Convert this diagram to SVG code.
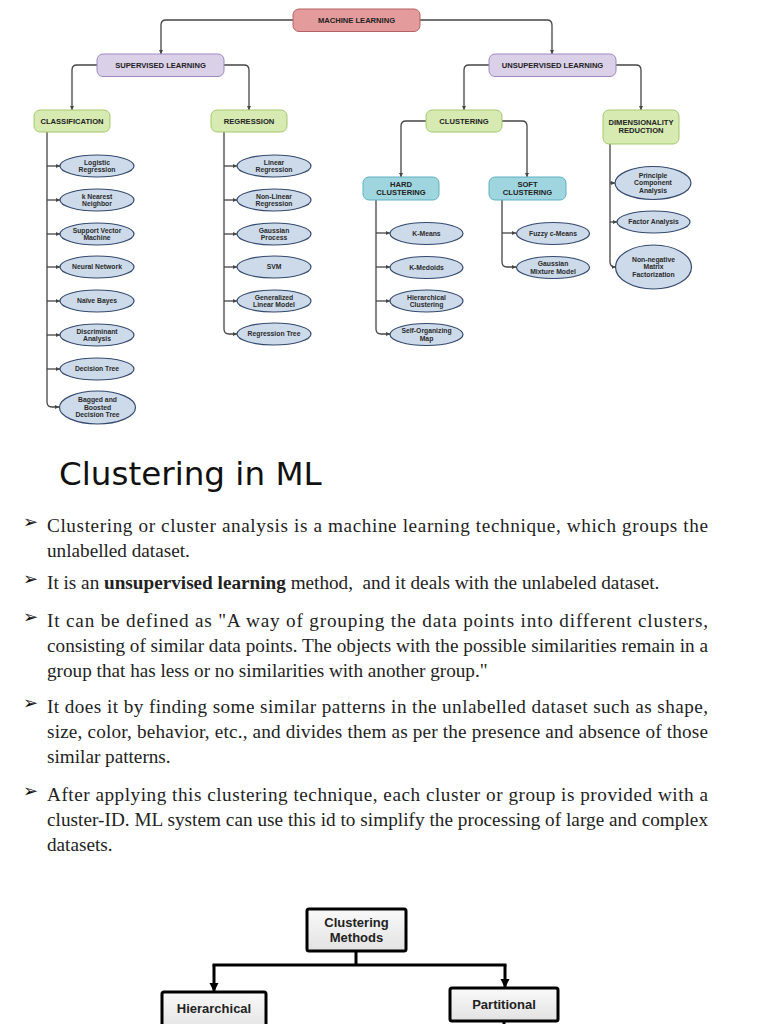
<svg xmlns="http://www.w3.org/2000/svg" width="768" height="1024" viewBox="0 0 768 1024">
<style>
.bg{fill:#ffffff}
.ml{fill:#e39b9b;stroke:#b56262;stroke-width:1}
.pu{fill:#dad0e8;stroke:#9f88c0;stroke-width:1}
.gr{fill:#d6eab2;stroke:#a2c96e;stroke-width:1}
.cy{fill:#9fd5df;stroke:#5eb0c2;stroke-width:1}
.el{fill:#cddaea;stroke:#34496e;stroke-width:1.2}
.bl{font-family:"Liberation Sans",Arial,sans-serif;font-weight:bold;font-size:7.6px;fill:#222;text-anchor:middle}
.et{font-family:"Liberation Sans",Arial,sans-serif;font-weight:bold;font-size:6.8px;fill:#2a2a2a;text-anchor:middle}
.cn{fill:none;stroke:#454545;stroke-width:1.3}
.cnb{fill:none;stroke:#000;stroke-width:3}
.bx{fill:url(#gg);stroke:#000;stroke-width:3}
.bt{font-family:"Liberation Sans",Arial,sans-serif;font-weight:bold;font-size:13px;fill:#222;text-anchor:middle}
.title{font-family:"DejaVu Sans",sans-serif;font-size:32.6px;fill:#111}
.body{font-family:"Liberation Serif","Times New Roman",serif;font-size:19.2px;fill:#222}
.bul{font-family:"DejaVu Sans",sans-serif;font-size:18px;fill:#111}
</style>
<defs>
<marker id="ah" viewBox="0 0 6 6" markerWidth="4" markerHeight="4" markerUnits="userSpaceOnUse" refX="6" refY="3" orient="auto"><path d="M0,0 L6,3 L0,6 z" fill="#454545"/></marker>
<marker id="ab" viewBox="0 0 10 10" markerWidth="9" markerHeight="10" markerUnits="userSpaceOnUse" refX="10" refY="5" orient="auto"><path d="M0,0 L10,5 L0,10 z" fill="#000"/></marker>
<linearGradient id="gg" x1="0" y1="0" x2="0" y2="1"><stop offset="0" stop-color="#fafafa"/><stop offset="1" stop-color="#e2e2e2"/></linearGradient>
</defs>
<rect class="bg" x="0" y="0" width="768" height="1024"/>

<g id="connectors">
<path class="cn" marker-end="url(#ah)" d="M293,20 H166 Q161,20 161,25 V54"/>
<path class="cn" marker-end="url(#ah)" d="M420,20 H547 Q552,20 552,25 V54"/>
<path class="cn" marker-end="url(#ah)" d="M97,65 H77 Q72,65 72,70 V110"/>
<path class="cn" marker-end="url(#ah)" d="M224,65 H244 Q249,65 249,70 V110"/>
<path class="cn" marker-end="url(#ah)" d="M489,65 H469 Q464,65 464,70 V110"/>
<path class="cn" marker-end="url(#ah)" d="M616,65 H636 Q641,65 641,70 V110"/>
<path class="cn" marker-end="url(#ah)" d="M426,121 H406 Q401,121 401,126 V177"/>
<path class="cn" marker-end="url(#ah)" d="M502,121 H522 Q527,121 527,126 V177"/>
<path class="cn" marker-end="url(#ah)" d="M47,132 V402 Q47,407 52,407 H59"/>
<path class="cn" marker-end="url(#ah)" d="M47,166 H60"/>
<path class="cn" marker-end="url(#ah)" d="M47,200 H60"/>
<path class="cn" marker-end="url(#ah)" d="M47,234 H60"/>
<path class="cn" marker-end="url(#ah)" d="M47,267 H60"/>
<path class="cn" marker-end="url(#ah)" d="M47,301 H60"/>
<path class="cn" marker-end="url(#ah)" d="M47,335 H60"/>
<path class="cn" marker-end="url(#ah)" d="M47,369 H60"/>
<path class="cn" marker-end="url(#ah)" d="M224,132 V329 Q224,334 229,334 H237"/>
<path class="cn" marker-end="url(#ah)" d="M224,166 H237"/>
<path class="cn" marker-end="url(#ah)" d="M224,200 H237"/>
<path class="cn" marker-end="url(#ah)" d="M224,234 H237"/>
<path class="cn" marker-end="url(#ah)" d="M224,267 H237"/>
<path class="cn" marker-end="url(#ah)" d="M224,301 H237"/>
<path class="cn" marker-end="url(#ah)" d="M376,200 V329 Q376,334 381,334 H390"/>
<path class="cn" marker-end="url(#ah)" d="M376,233 H390"/>
<path class="cn" marker-end="url(#ah)" d="M376,267 H390"/>
<path class="cn" marker-end="url(#ah)" d="M376,301 H390"/>
<path class="cn" marker-end="url(#ah)" d="M502,200 V262 Q502,267 507,267 H516"/>
<path class="cn" marker-end="url(#ah)" d="M502,233 H516"/>
<path class="cn" marker-end="url(#ah)" d="M610,144 V262 Q610,267 615,267 H615.5"/>
<path class="cn" marker-end="url(#ah)" d="M610,183 H615"/>
<path class="cn" marker-end="url(#ah)" d="M610,222 H617"/>
<path class="cnb" d="M356,951 V965 M212.5,965 H506.5"/>
<path class="cnb" marker-end="url(#ab)" d="M214,965 V992"/>
<path class="cnb" marker-end="url(#ab)" d="M505,965 V988"/>
<path class="cnb" d="M504,1021 V1024"/>
</g>

<g id="machine-learning"><rect class="ml" x="293" y="9" width="127" height="22.5" rx="6"/><text class="bl" x="356.5" y="23">MACHINE LEARNING</text></g>
<g id="supervised"><rect class="pu" x="97" y="54" width="127" height="22.5" rx="6"/><text class="bl" x="160.5" y="68">SUPERVISED LEARNING</text></g>
<g id="unsupervised"><rect class="pu" x="489" y="54" width="127" height="22.5" rx="6"/><text class="bl" x="552.5" y="68">UNSUPERVISED LEARNING</text></g>
<g id="classification"><rect class="gr" x="34" y="110" width="76" height="22" rx="6"/><text class="bl" x="72" y="124">CLASSIFICATION</text></g>
<g id="regression"><rect class="gr" x="211" y="110" width="76" height="22" rx="6"/><text class="bl" x="249" y="124">REGRESSION</text></g>
<g id="clustering"><rect class="gr" x="426" y="110" width="76" height="22" rx="6"/><text class="bl" x="464" y="124">CLUSTERING</text></g>
<g id="dimensionality"><rect class="gr" x="603" y="110" width="76" height="34" rx="6"/><text class="bl" x="641" y="124.5">DIMENSIONALITY<tspan x="641" dy="8.5">REDUCTION</tspan></text></g>
<g id="hard"><rect class="cy" x="363" y="177" width="76" height="23" rx="6"/><text class="bl" x="401" y="186.5">HARD<tspan x="401" dy="8.5">CLUSTERING</tspan></text></g>
<g id="soft"><rect class="cy" x="489" y="177" width="77" height="23" rx="6"/><text class="bl" x="527.5" y="186.5">SOFT<tspan x="527.5" dy="8.5">CLUSTERING</tspan></text></g>

<g id="logistic"><ellipse class="el" cx="97" cy="166" rx="37" ry="11"/><text class="et" x="97" y="164.5">Logistic<tspan x="97" dy="7.7">Regression</tspan></text></g>
<g id="knn"><ellipse class="el" cx="97" cy="200" rx="37" ry="11"/><text class="et" x="97" y="198.5">k Nearest<tspan x="97" dy="7.7">Neighbor</tspan></text></g>
<g id="svm-c"><ellipse class="el" cx="97" cy="234" rx="37" ry="11"/><text class="et" x="97" y="232.5">Support Vector<tspan x="97" dy="7.7">Machine</tspan></text></g>
<g id="nn"><ellipse class="el" cx="97" cy="267" rx="37" ry="11"/><text class="et" x="97" y="269.4">Neural Network</text></g>
<g id="nb"><ellipse class="el" cx="97" cy="301" rx="37" ry="11"/><text class="et" x="97" y="303.4">Naïve Bayes</text></g>
<g id="da"><ellipse class="el" cx="97" cy="335" rx="37" ry="11"/><text class="et" x="97" y="333.5">Discriminant<tspan x="97" dy="7.7">Analysis</tspan></text></g>
<g id="dt"><ellipse class="el" cx="97" cy="369" rx="37" ry="11"/><text class="et" x="97" y="371.4">Decision Tree</text></g>
<g id="bagged"><ellipse class="el" cx="97.5" cy="407.5" rx="38" ry="16.5"/><text class="et" x="97.5" y="402.2">Bagged and<tspan x="97.5" dy="7.6">Boosted</tspan><tspan x="97.5" dy="7.6">Decision Tree</tspan></text></g>

<g id="linear"><ellipse class="el" cx="274" cy="166" rx="37" ry="11"/><text class="et" x="274" y="164.5">Linear<tspan x="274" dy="7.7">Regression</tspan></text></g>
<g id="nonlinear"><ellipse class="el" cx="274" cy="200" rx="37" ry="11"/><text class="et" x="274" y="198.5">Non-Linear<tspan x="274" dy="7.7">Regression</tspan></text></g>
<g id="gp"><ellipse class="el" cx="274" cy="234" rx="37" ry="11"/><text class="et" x="274" y="232.5">Gaussian<tspan x="274" dy="7.7">Process</tspan></text></g>
<g id="svm-r"><ellipse class="el" cx="274" cy="267" rx="37" ry="11"/><text class="et" x="274" y="269.4">SVM</text></g>
<g id="glm"><ellipse class="el" cx="274" cy="301" rx="37" ry="11"/><text class="et" x="274" y="299.5">Generalized<tspan x="274" dy="7.7">Linear Model</tspan></text></g>
<g id="rt"><ellipse class="el" cx="274" cy="334" rx="37" ry="11"/><text class="et" x="274" y="336.4">Regression Tree</text></g>

<g id="kmeans"><ellipse class="el" cx="426.5" cy="233.5" rx="36.5" ry="11"/><text class="et" x="426.5" y="235.9">K-Means</text></g>
<g id="kmedoids"><ellipse class="el" cx="426.5" cy="267.5" rx="36.5" ry="11"/><text class="et" x="426.5" y="269.9">K-Medoids</text></g>
<g id="hier"><ellipse class="el" cx="426.5" cy="301" rx="36.5" ry="11"/><text class="et" x="426.5" y="299.5">Hierarchical<tspan x="426.5" dy="7.7">Clustering</tspan></text></g>
<g id="som"><ellipse class="el" cx="426.5" cy="334.5" rx="36.5" ry="11"/><text class="et" x="426.5" y="333">Self-Organizing<tspan x="426.5" dy="7.7">Map</tspan></text></g>

<g id="fuzzy"><ellipse class="el" cx="553" cy="233.5" rx="36.5" ry="11"/><text class="et" x="553" y="235.9">Fuzzy c-Means</text></g>
<g id="gmm"><ellipse class="el" cx="553" cy="267.5" rx="36.5" ry="11"/><text class="et" x="553" y="266">Gaussian<tspan x="553" dy="7.7">Mixture Model</tspan></text></g>

<g id="pca"><ellipse class="el" cx="653" cy="183" rx="38" ry="16.5"/><text class="et" x="653" y="177.7">Principle<tspan x="653" dy="7.6">Component</tspan><tspan x="653" dy="7.6">Analysis</tspan></text></g>
<g id="fa"><ellipse class="el" cx="653.5" cy="222" rx="36.5" ry="11"/><text class="et" x="653.5" y="224.4">Factor Analysis</text></g>
<g id="nmf"><ellipse class="el" cx="653.5" cy="267" rx="38" ry="22"/><text class="et" x="653.5" y="261.7">Non-negative<tspan x="653.5" dy="7.6">Matrix</tspan><tspan x="653.5" dy="7.6">Factorization</tspan></text></g>

<g id="text">
<text class="title" x="59" y="485">Clustering in ML</text>
<text class="bul" x="23" y="528">➢</text>
<text class="bul" x="23" y="585">➢</text>
<text class="bul" x="23" y="623">➢</text>
<text class="bul" x="23" y="709">➢</text>
<text class="bul" x="23" y="797">➢</text>
<text class="body" x="47" y="532" textLength="661" lengthAdjust="spacing">Clustering or cluster analysis is a machine learning technique, which groups the</text>
<text class="body" x="47" y="557">unlabelled dataset.</text>
<text class="body" x="47" y="589" xml:space="preserve">It is an <tspan font-weight="bold">unsupervised learning</tspan> method,  and it deals with the unlabeled dataset.</text>
<text class="body" x="47" y="627" textLength="661" lengthAdjust="spacing">It can be defined as "A way of grouping the data points into different clusters,</text>
<text class="body" x="47" y="652" textLength="661" lengthAdjust="spacing">consisting of similar data points. The objects with the possible similarities remain in a</text>
<text class="body" x="47" y="677">group that has less or no similarities with another group."</text>
<text class="body" x="47" y="713" textLength="661" lengthAdjust="spacing">It does it by finding some similar patterns in the unlabelled dataset such as shape,</text>
<text class="body" x="47" y="738" textLength="661" lengthAdjust="spacing">size, color, behavior, etc., and divides them as per the presence and absence of those</text>
<text class="body" x="47" y="763">similar patterns.</text>
<text class="body" x="47" y="801" textLength="661" lengthAdjust="spacing">After applying this clustering technique, each cluster or group is provided with a</text>
<text class="body" x="47" y="826" textLength="661" lengthAdjust="spacing">cluster-ID. ML system can use this id to simplify the processing of large and complex</text>
<text class="body" x="47" y="851">datasets.</text>
</g>

<g id="clustering-methods"><rect class="bx" x="307" y="909" width="99" height="42" rx="2"/><text class="bt" x="356.5" y="927">Clustering<tspan x="356.5" dy="15">Methods</tspan></text></g>
<g id="hierarchical"><rect class="bx" x="162" y="992" width="104" height="40" rx="2"/><text class="bt" x="214" y="1013">Hierarchical</text></g>
<g id="partitional"><rect class="bx" x="450" y="988" width="108" height="33" rx="2"/><text class="bt" x="504" y="1009">Partitional</text></g>
</svg>
